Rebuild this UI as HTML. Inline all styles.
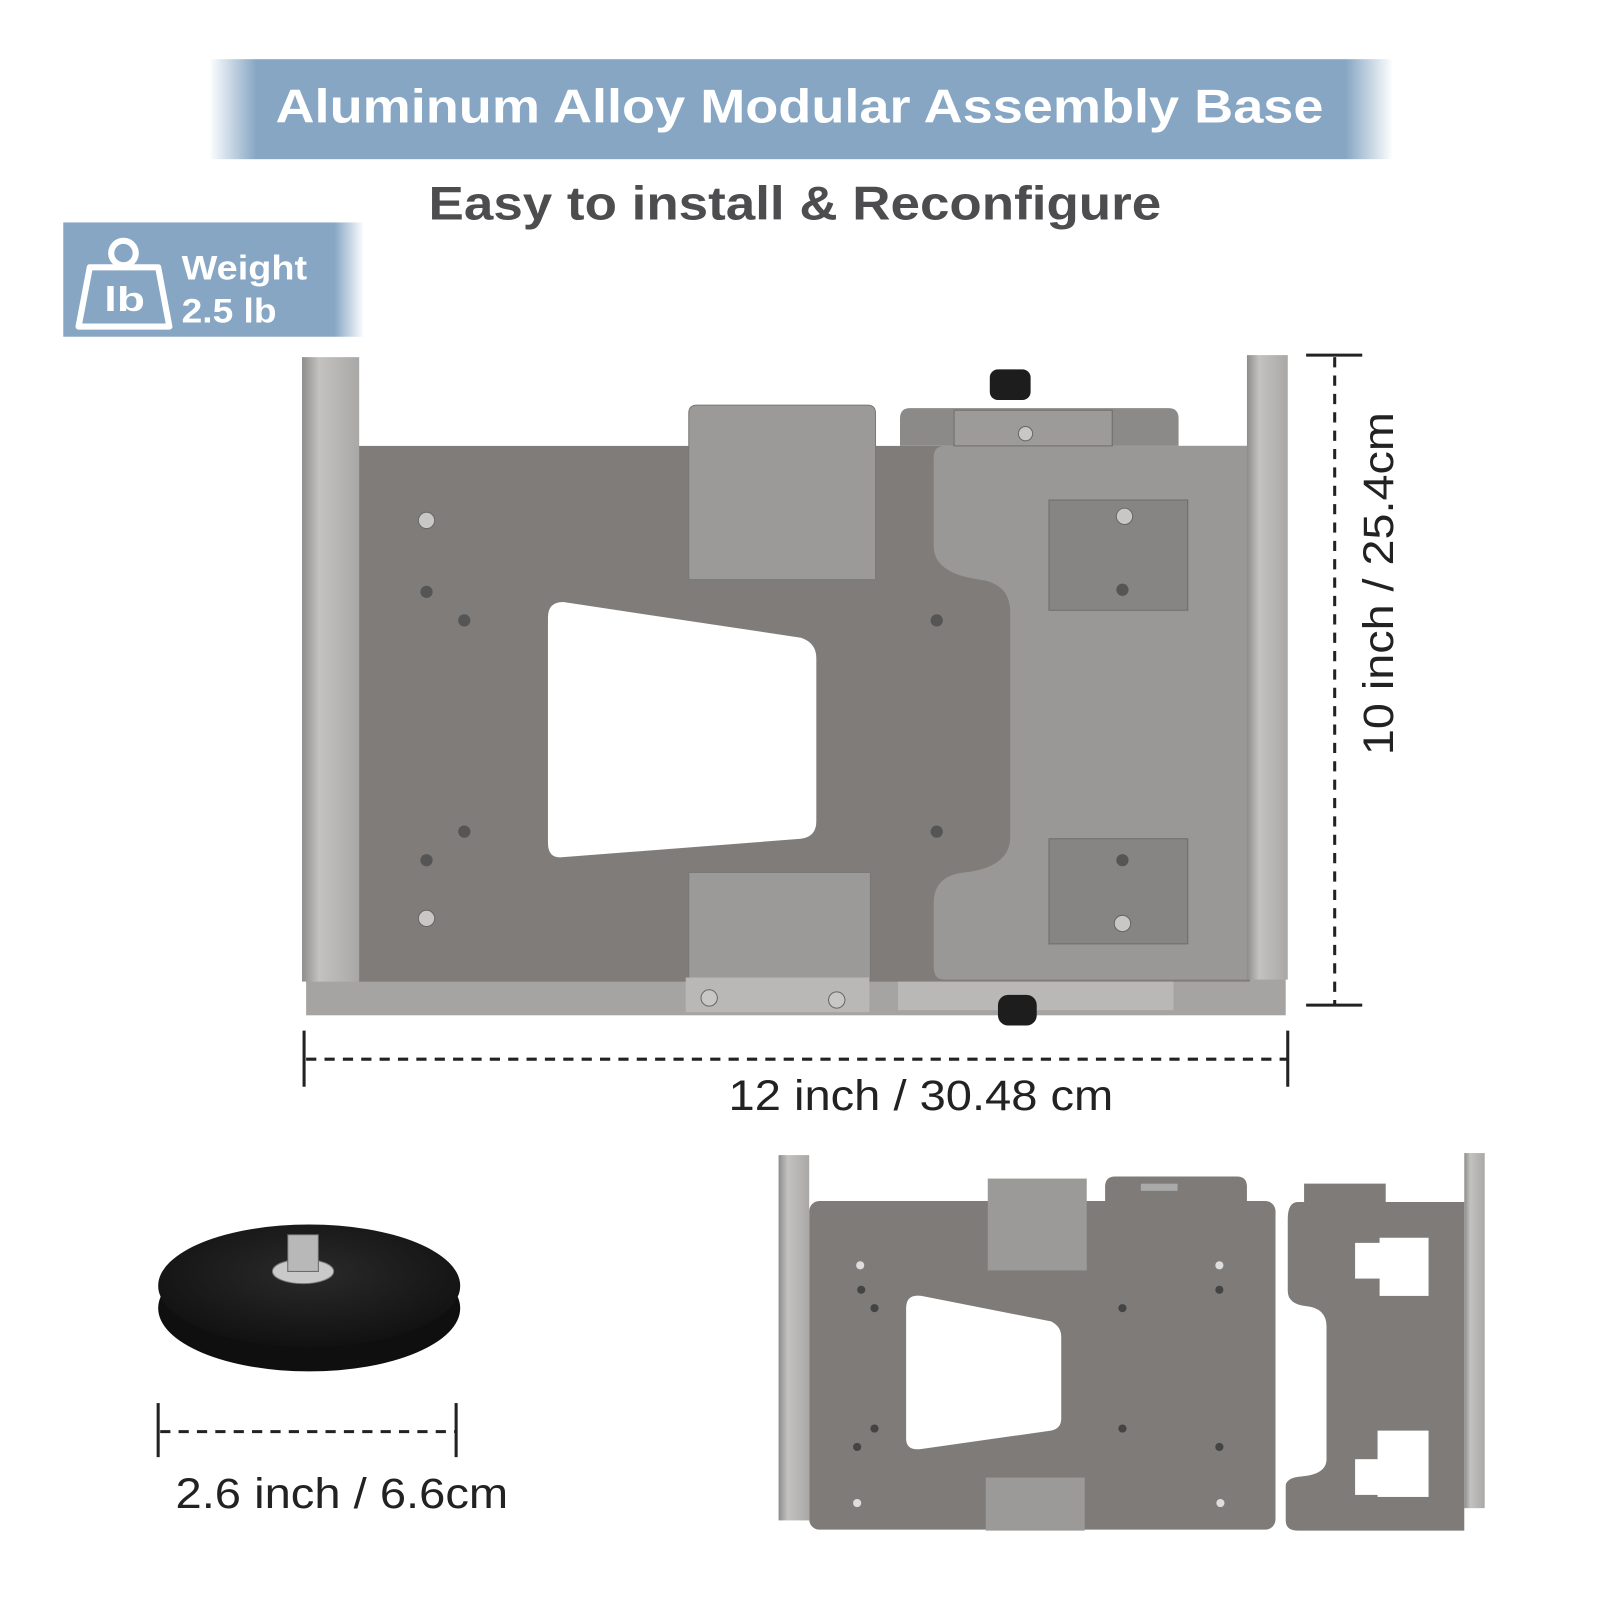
<!DOCTYPE html>
<html><head><meta charset="utf-8"><style>
html,body{margin:0;padding:0;background:#fff}
svg{display:block}
text{font-family:"Liberation Sans",sans-serif;font-weight:bold}
</style></head><body>
<svg width="1600" height="1600" viewBox="0 0 1568 1568" xmlns="http://www.w3.org/2000/svg">
<defs>
<linearGradient id="ban" x1="0" x2="1"><stop offset="0" stop-color="#fff"/><stop offset="0.04" stop-color="#86a6c3"/><stop offset="0.96" stop-color="#86a6c3"/><stop offset="1" stop-color="#fff"/></linearGradient>
<linearGradient id="ban2" x1="0" x2="1"><stop offset="0" stop-color="#86a6c3"/><stop offset="0.9" stop-color="#86a6c3"/><stop offset="1" stop-color="#fff"/></linearGradient>
<linearGradient id="rail" x1="0" x2="1"><stop offset="0" stop-color="#8e8d8b"/><stop offset="0.3" stop-color="#c3c2c0"/><stop offset="1" stop-color="#a9a8a6"/></linearGradient>
<radialGradient id="mag" cx="0.5" cy="0.4" r="0.6"><stop offset="0" stop-color="#2a2a2a"/><stop offset="1" stop-color="#111"/></radialGradient>
</defs>
<rect x="205" y="58" width="1160" height="98" fill="url(#ban)"/>
<text x="270" y="120" font-size="46" fill="#fff" textLength="1027" lengthAdjust="spacingAndGlyphs">Aluminum Alloy Modular Assembly Base</text>
<text x="420" y="215" font-size="46" fill="#4d4d4f" textLength="718" lengthAdjust="spacingAndGlyphs">Easy to install &amp; Reconfigure</text>
<rect x="62" y="218" width="295" height="112" fill="url(#ban2)"/>
<circle cx="121" cy="248" r="12" fill="none" stroke="#fff" stroke-width="6"/>
<path d="M88 262 L155 262 L166 320 L77 320 Z" fill="none" stroke="#fff" stroke-width="6" stroke-linejoin="round"/>
<text x="102" y="305" font-size="34" fill="#fff" textLength="40" lengthAdjust="spacingAndGlyphs">lb</text>
<text x="178" y="274" font-size="34" fill="#fff" textLength="123" lengthAdjust="spacingAndGlyphs">Weight</text>
<text x="178" y="316" font-size="34" fill="#fff" textLength="93" lengthAdjust="spacingAndGlyphs">2.5 lb</text>

<rect x="300" y="955" width="960" height="40" fill="#a5a4a2"/>
<rect x="350" y="437" width="875" height="525" fill="#7f7c79"/>
<path d="M915 448 Q915 437 926 437 L1222 437 L1222 960 L926 960 Q915 960 915 948 L915 885 Q915 858 945 855 Q990 850 990 820 L990 600 Q990 572 960 568 Q915 562 915 535 Z" fill="#9a9896"/>
<path d="M882 437 L882 410 Q882 400 892 400 L1145 400 Q1155 400 1155 410 L1155 437 Z" fill="#8c8a88"/>
<rect x="935" y="402" width="155" height="35" fill="#9d9b99" stroke="#6f6d6b"/>
<rect x="970" y="362" width="40" height="30" rx="8" fill="#1d1d1d"/>
<rect x="1028" y="490" width="136" height="108" fill="#878583" stroke="#6f6d6b"/>
<rect x="1028" y="822" width="136" height="103" fill="#878583" stroke="#6f6d6b"/>
<path d="M537 605 Q537 590 552 590 L785 625 Q800 630 800 645 L800 805 Q800 820 785 822 L552 840 Q537 842 537 826 Z" fill="#fff"/>
<path d="M675 405 Q675 397 683 397 L850 397 Q858 397 858 405 L858 568 L675 568 Z" fill="#9c9a98" stroke="#7a7876"/>
<rect x="675" y="855" width="178" height="105" fill="#9c9a98" stroke="#7a7876"/>
<rect x="672" y="958" width="180" height="34" fill="#b9b8b6"/>
<rect x="880" y="962" width="270" height="28" fill="#b9b8b6"/>
<rect x="978" y="975" width="38" height="30" rx="10" fill="#1d1d1d"/>
<rect x="296" y="350" width="56" height="612" fill="url(#rail)"/>
<rect x="1222" y="348" width="40" height="612" fill="url(#rail)"/>
<g fill="#555">
<circle cx="418" cy="580" r="6"/><circle cx="455" cy="608" r="6"/><circle cx="918" cy="608" r="6"/>
<circle cx="455" cy="815" r="6"/><circle cx="418" cy="843" r="6"/><circle cx="918" cy="815" r="6"/>
<circle cx="1100" cy="578" r="6"/><circle cx="1100" cy="843" r="6"/>
</g>
<g fill="#c8c7c5" stroke="#666"><circle cx="418" cy="510" r="8"/><circle cx="418" cy="900" r="8"/><circle cx="1102" cy="506" r="8"/><circle cx="1100" cy="905" r="8"/><circle cx="1005" cy="425" r="7"/><circle cx="695" cy="978" r="8"/><circle cx="820" cy="980" r="8"/></g>

<g stroke="#222" stroke-width="3" fill="none">
<line x1="1280" y1="348" x2="1335" y2="348"/><line x1="1280" y1="985" x2="1335" y2="985"/>
<line x1="1308" y1="350" x2="1308" y2="985" stroke-dasharray="10,8"/>
<line x1="298" y1="1010" x2="298" y2="1065"/><line x1="1262" y1="1010" x2="1262" y2="1065"/>
<line x1="300" y1="1038" x2="1262" y2="1038" stroke-dasharray="10,8"/>
<line x1="155" y1="1375" x2="155" y2="1428"/><line x1="447" y1="1375" x2="447" y2="1428"/>
<line x1="157" y1="1403" x2="447" y2="1403" stroke-dasharray="10,8"/>
</g>
<text transform="translate(1365 740) rotate(-90)" font-size="42" fill="#222" style="font-weight:normal" textLength="336" lengthAdjust="spacingAndGlyphs">10 inch / 25.4cm</text>
<text x="714" y="1088" font-size="42" fill="#222" style="font-weight:normal" textLength="377" lengthAdjust="spacingAndGlyphs">12 inch / 30.48 cm</text>
<text x="172" y="1478" font-size="42" fill="#222" style="font-weight:normal" textLength="326" lengthAdjust="spacingAndGlyphs">2.6 inch / 6.6cm</text>

<ellipse cx="303" cy="1282" rx="148" ry="62" fill="#0f0f0f"/>
<ellipse cx="303" cy="1260" rx="148" ry="60" fill="url(#mag)"/>
<ellipse cx="297" cy="1246" rx="30" ry="12" fill="#c9c9c9" stroke="#777"/>
<rect x="282" y="1210" width="30" height="36" fill="#b8b8b8" stroke="#666"/>

<rect x="793" y="1177" width="457" height="322" rx="10" fill="#7e7b78"/>
<path d="M1083 1177 L1083 1163 Q1083 1153 1093 1153 L1212 1153 Q1222 1153 1222 1163 L1222 1177Z" fill="#7e7b78"/>
<rect x="1118" y="1160" width="36" height="7" fill="#aaa"/>
<path d="M903 1270 L1030 1295 Q1040 1300 1040 1310 L1040 1390 Q1040 1400 1030 1402 L903 1420 Q888 1422 888 1410 L888 1282 Q888 1268 903 1270Z" fill="#fff"/>
<rect x="968" y="1155" width="97" height="90" fill="#9c9a98"/>
<rect x="966" y="1448" width="97" height="52" fill="#9c9a98"/>
<path d="M1262 1195 Q1262 1178 1272 1178 L1278 1178 L1278 1160 L1358 1160 L1358 1178 L1435 1178 L1435 1500 L1272 1500 Q1260 1500 1260 1490 L1260 1455 Q1262 1448 1275 1447 Q1300 1445 1300 1430 L1300 1300 Q1300 1282 1280 1280 Q1262 1278 1262 1265Z" fill="#7e7b78"/>
<rect x="1352" y="1213" width="48" height="57" fill="#fff"/><rect x="1328" y="1218" width="30" height="35" fill="#fff"/>
<rect x="1350" y="1402" width="50" height="65" fill="#fff"/><rect x="1328" y="1430" width="30" height="35" fill="#fff"/>
<rect x="763" y="1132" width="30" height="358" fill="url(#rail)"/>
<rect x="1435" y="1130" width="20" height="348" fill="url(#rail)"/>
<g fill="#444"><circle cx="844" cy="1264" r="4"/><circle cx="857" cy="1282" r="4"/><circle cx="1100" cy="1282" r="4"/><circle cx="1195" cy="1264" r="4"/><circle cx="857" cy="1400" r="4"/><circle cx="840" cy="1418" r="4"/><circle cx="1100" cy="1400" r="4"/><circle cx="1195" cy="1418" r="4"/></g>
<g fill="#ddd"><circle cx="843" cy="1240" r="4"/><circle cx="1195" cy="1240" r="4"/><circle cx="840" cy="1473" r="4"/><circle cx="1196" cy="1473" r="4"/></g>
</svg>
</body></html>
